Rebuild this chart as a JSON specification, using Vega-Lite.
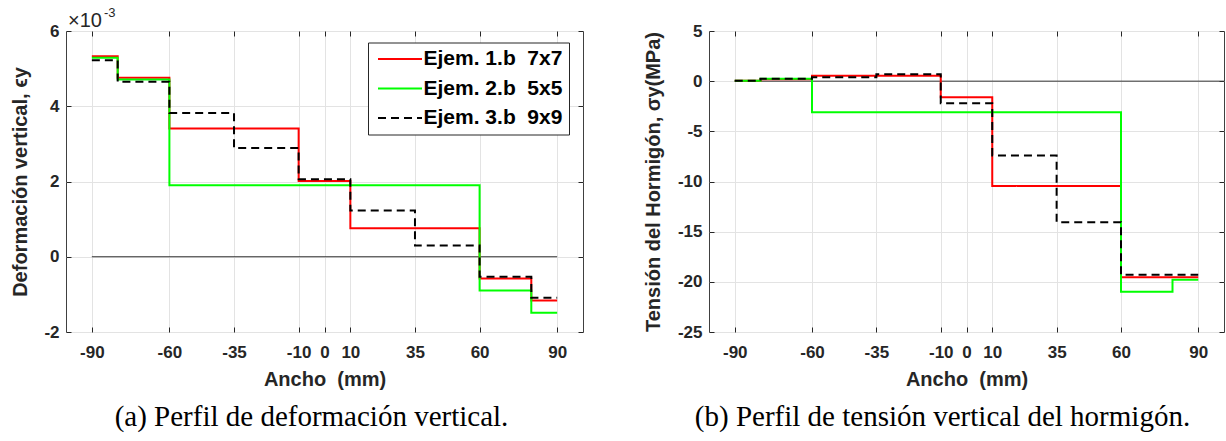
{
  "$schema": "https://vega.github.io/schema/vega-lite/v6.json",
  "background": "white",
  "padding": {"left": 10, "top": 6, "right": 0, "bottom": 0},
  "bounds": "flush",
  "spacing": 126,
  "resolve": {"legend": {"color": "independent", "strokeDash": "independent"}},
  "config": {
    "font": "Liberation Sans",
    "view": {"stroke": "#404040", "strokeWidth": 1},
    "axis": {
      "labelFont": "Liberation Sans", "labelFontSize": 17, "labelFontWeight": "bold", "labelColor": "#262626",
      "titleFont": "Liberation Sans", "titleFontSize": 20, "titleFontWeight": "bold", "titleColor": "#262626",
      "domain": false, "tickColor": "#262626", "tickSize": -5, "tickWidth": 1,
      "gridColor": "#e3e3e3", "gridWidth": 1, "labelOverlap": false, "labelFlush": false,
      "labelExpr": "replace(datum.label, '\u2212', '-')"
    },
    "legend": {
      "orient": "none", "legendX": 302, "legendY": 11.5,
      "strokeColor": "#262626", "fillColor": "white", "padding": 6,
      "symbolType": "M-4,0H4", "symbolSize": 121, "symbolStrokeWidth": 2, "symbolOffset": 15.5,
      "labelFont": "Liberation Sans", "labelFontSize": 21, "labelFontWeight": "bold", "labelColor": "black",
      "rowPadding": 7.5, "labelOffset": 13
    }
  },
  "datasets": {
    "a": [
      {"serie": "Ejem. 1.b\u00a0 7x7", "x": -90, "y": 5.33},
      {"serie": "Ejem. 1.b\u00a0 7x7", "x": -80, "y": 4.76},
      {"serie": "Ejem. 1.b\u00a0 7x7", "x": -60, "y": 3.41},
      {"serie": "Ejem. 1.b\u00a0 7x7", "x": -10, "y": 2.01},
      {"serie": "Ejem. 1.b\u00a0 7x7", "x": 10, "y": 0.76},
      {"serie": "Ejem. 1.b\u00a0 7x7", "x": 60, "y": -0.58},
      {"serie": "Ejem. 1.b\u00a0 7x7", "x": 80, "y": -1.16},
      {"serie": "Ejem. 1.b\u00a0 7x7", "x": 90, "y": -1.16},
      {"serie": "Ejem. 2.b\u00a0 5x5", "x": -90, "y": 5.29},
      {"serie": "Ejem. 2.b\u00a0 5x5", "x": -80, "y": 4.71},
      {"serie": "Ejem. 2.b\u00a0 5x5", "x": -60, "y": 1.9},
      {"serie": "Ejem. 2.b\u00a0 5x5", "x": 60, "y": -0.9},
      {"serie": "Ejem. 2.b\u00a0 5x5", "x": 80, "y": -1.49},
      {"serie": "Ejem. 2.b\u00a0 5x5", "x": 90, "y": -1.49},
      {"serie": "Ejem. 3.b\u00a0 9x9", "x": -90, "y": 5.22},
      {"serie": "Ejem. 3.b\u00a0 9x9", "x": -80, "y": 4.65},
      {"serie": "Ejem. 3.b\u00a0 9x9", "x": -60, "y": 3.82},
      {"serie": "Ejem. 3.b\u00a0 9x9", "x": -35, "y": 2.89},
      {"serie": "Ejem. 3.b\u00a0 9x9", "x": -10, "y": 2.06},
      {"serie": "Ejem. 3.b\u00a0 9x9", "x": 10, "y": 1.23},
      {"serie": "Ejem. 3.b\u00a0 9x9", "x": 35, "y": 0.3},
      {"serie": "Ejem. 3.b\u00a0 9x9", "x": 60, "y": -0.53},
      {"serie": "Ejem. 3.b\u00a0 9x9", "x": 80, "y": -1.09},
      {"serie": "Ejem. 3.b\u00a0 9x9", "x": 90, "y": -1.09}
    ],
    "b": [
      {"serie": "Ejem. 1.b\u00a0 7x7", "x": -90, "y": 0.05},
      {"serie": "Ejem. 1.b\u00a0 7x7", "x": -80, "y": 0.2},
      {"serie": "Ejem. 1.b\u00a0 7x7", "x": -60, "y": 0.55},
      {"serie": "Ejem. 1.b\u00a0 7x7", "x": -10, "y": -1.6},
      {"serie": "Ejem. 1.b\u00a0 7x7", "x": 10, "y": -10.45},
      {"serie": "Ejem. 1.b\u00a0 7x7", "x": 60, "y": -19.55},
      {"serie": "Ejem. 1.b\u00a0 7x7", "x": 80, "y": -19.55},
      {"serie": "Ejem. 1.b\u00a0 7x7", "x": 90, "y": -19.55},
      {"serie": "Ejem. 2.b\u00a0 5x5", "x": -90, "y": 0.05},
      {"serie": "Ejem. 2.b\u00a0 5x5", "x": -80, "y": 0.25},
      {"serie": "Ejem. 2.b\u00a0 5x5", "x": -60, "y": -3.1},
      {"serie": "Ejem. 2.b\u00a0 5x5", "x": 60, "y": -21.0},
      {"serie": "Ejem. 2.b\u00a0 5x5", "x": 80, "y": -19.8},
      {"serie": "Ejem. 2.b\u00a0 5x5", "x": 90, "y": -19.8},
      {"serie": "Ejem. 3.b\u00a0 9x9", "x": -90, "y": 0.05},
      {"serie": "Ejem. 3.b\u00a0 9x9", "x": -80, "y": 0.25},
      {"serie": "Ejem. 3.b\u00a0 9x9", "x": -60, "y": 0.4},
      {"serie": "Ejem. 3.b\u00a0 9x9", "x": -35, "y": 0.7},
      {"serie": "Ejem. 3.b\u00a0 9x9", "x": -10, "y": -2.2},
      {"serie": "Ejem. 3.b\u00a0 9x9", "x": 10, "y": -7.4},
      {"serie": "Ejem. 3.b\u00a0 9x9", "x": 35, "y": -14.05},
      {"serie": "Ejem. 3.b\u00a0 9x9", "x": 60, "y": -19.3},
      {"serie": "Ejem. 3.b\u00a0 9x9", "x": 80, "y": -19.3},
      {"serie": "Ejem. 3.b\u00a0 9x9", "x": 90, "y": -19.3}
    ]
  },
  "hconcat": [
    {
      "width": 517,
      "height": 301,
      "title": {"text": "(a) Perfil de deformación vertical.", "orient": "bottom", "anchor": "middle", "frame": "group", "font": "Liberation Serif", "fontSize": 29, "fontWeight": "normal", "color": "black", "offset": 14, "dx": -13},
      "resolve": {"axis": {"x": "independent", "y": "independent"}},
      "layer": [
        {
          "data": {"values": [{"ref": "cero"}]},
          "mark": {"type": "rule", "color": "#333333", "strokeWidth": 1},
          "encoding": {
            "x": {"datum": -90, "type": "quantitative", "scale": {"domain": [-100, 100], "nice": false}, "axis": null},
            "x2": {"datum": 90},
            "y": {"datum": 0, "type": "quantitative", "scale": {"domain": [-2, 6], "nice": false}, "axis": null}
          }
        },
        {
          "data": {"name": "a"},
          "mark": {"type": "line", "interpolate": "step-after", "strokeWidth": 2},
          "encoding": {
            "x": {"field": "x", "type": "quantitative", "scale": {"domain": [-100, 100], "nice": false},
                  "axis": {"values": [-90, -60, -35, -10, 0, 10, 35, 60, 90], "title": "Ancho\u00a0 (mm)", "grid": true, "labelPadding": 17, "titlePadding": 9}},
            "y": {"field": "y", "type": "quantitative", "scale": {"domain": [-2, 6], "nice": false},
                  "axis": {"values": [-2, 0, 2, 4, 6], "title": "Deformación vertical, ϵy", "grid": true, "labelPadding": 12, "titlePadding": 13}},
            "color": {"field": "serie", "type": "nominal",
                      "scale": {"domain": ["Ejem. 1.b\u00a0 7x7", "Ejem. 2.b\u00a0 5x5", "Ejem. 3.b\u00a0 9x9"], "range": ["#ff0000", "#00ff00", "#000000"]},
                      "legend": {"title": null}},
            "strokeDash": {"field": "serie", "type": "nominal",
                      "scale": {"domain": ["Ejem. 1.b\u00a0 7x7", "Ejem. 2.b\u00a0 5x5", "Ejem. 3.b\u00a0 9x9"], "range": [[1, 0], [1, 0], [8, 5]]},
                      "legend": {"title": null}}
          }
        },
        {
          "data": {"name": "a"},
          "mark": {"type": "point", "opacity": 0},
          "encoding": {
            "x": {"field": "x", "type": "quantitative", "axis": {"orient": "top", "labels": false, "title": null, "grid": false, "values": [-90, -60, -35, -10, 0, 10, 35, 60, 90]}},
            "y": {"field": "y", "type": "quantitative", "axis": {"orient": "right", "labels": false, "title": null, "grid": false, "values": [-2, 0, 2, 4, 6]}}
          }
        },
        {
          "data": {"values": [{"t": "×10"}]},
          "mark": {"type": "text", "align": "left", "baseline": "alphabetic", "font": "Liberation Sans", "fontSize": 20, "color": "#262626", "dx": 2, "dy": -4.5},
          "encoding": {
            "x": {"datum": -100, "type": "quantitative", "axis": null},
            "y": {"datum": 6, "type": "quantitative", "axis": null},
            "text": {"field": "t"}
          }
        },
        {
          "data": {"values": [{"t": "-3"}]},
          "mark": {"type": "text", "align": "left", "baseline": "alphabetic", "font": "Liberation Sans", "fontSize": 13, "color": "#262626", "dx": 38, "dy": -14},
          "encoding": {
            "x": {"datum": -100, "type": "quantitative", "axis": null},
            "y": {"datum": 6, "type": "quantitative", "axis": null},
            "text": {"field": "t"}
          }
        }
      ]
    },
    {
      "width": 515,
      "height": 301,
      "title": {"text": "(b) Perfil de tensión vertical del hormigón.", "orient": "bottom", "anchor": "middle", "frame": "group", "font": "Liberation Serif", "fontSize": 29, "fontWeight": "normal", "color": "black", "offset": 14, "dx": -24},
      "resolve": {"axis": {"x": "independent", "y": "independent"}},
      "layer": [
        {
          "data": {"values": [{"ref": "cero"}]},
          "mark": {"type": "rule", "color": "#333333", "strokeWidth": 1},
          "encoding": {
            "x": {"datum": -90, "type": "quantitative", "scale": {"domain": [-100, 100], "nice": false}, "axis": null},
            "x2": {"datum": 100},
            "y": {"datum": 0, "type": "quantitative", "scale": {"domain": [-25, 5], "nice": false}, "axis": null}
          }
        },
        {
          "data": {"name": "b"},
          "mark": {"type": "line", "interpolate": "step-after", "strokeWidth": 2},
          "encoding": {
            "x": {"field": "x", "type": "quantitative", "scale": {"domain": [-100, 100], "nice": false},
                  "axis": {"values": [-90, -60, -35, -10, 0, 10, 35, 60, 90], "title": "Ancho\u00a0 (mm)", "grid": true, "labelPadding": 17, "titlePadding": 9}},
            "y": {"field": "y", "type": "quantitative", "scale": {"domain": [-25, 5], "nice": false},
                  "axis": {"values": [-25, -20, -15, -10, -5, 0, 5], "title": "Tensión del Hormigón, σy(MPa)", "grid": true, "labelPadding": 12, "titlePadding": 14}},
            "color": {"field": "serie", "type": "nominal",
                      "scale": {"domain": ["Ejem. 1.b\u00a0 7x7", "Ejem. 2.b\u00a0 5x5", "Ejem. 3.b\u00a0 9x9"], "range": ["#ff0000", "#00ff00", "#000000"]},
                      "legend": null},
            "strokeDash": {"field": "serie", "type": "nominal",
                      "scale": {"domain": ["Ejem. 1.b\u00a0 7x7", "Ejem. 2.b\u00a0 5x5", "Ejem. 3.b\u00a0 9x9"], "range": [[1, 0], [1, 0], [8, 5]]},
                      "legend": null}
          }
        },
        {
          "data": {"name": "b"},
          "mark": {"type": "point", "opacity": 0},
          "encoding": {
            "x": {"field": "x", "type": "quantitative", "axis": {"orient": "top", "labels": false, "title": null, "grid": false, "values": [-90, -60, -35, -10, 0, 10, 35, 60, 90]}},
            "y": {"field": "y", "type": "quantitative", "axis": {"orient": "right", "labels": false, "title": null, "grid": false, "values": [-25, -20, -15, -10, -5, 0, 5]}}
          }
        }
      ]
    }
  ]
}
